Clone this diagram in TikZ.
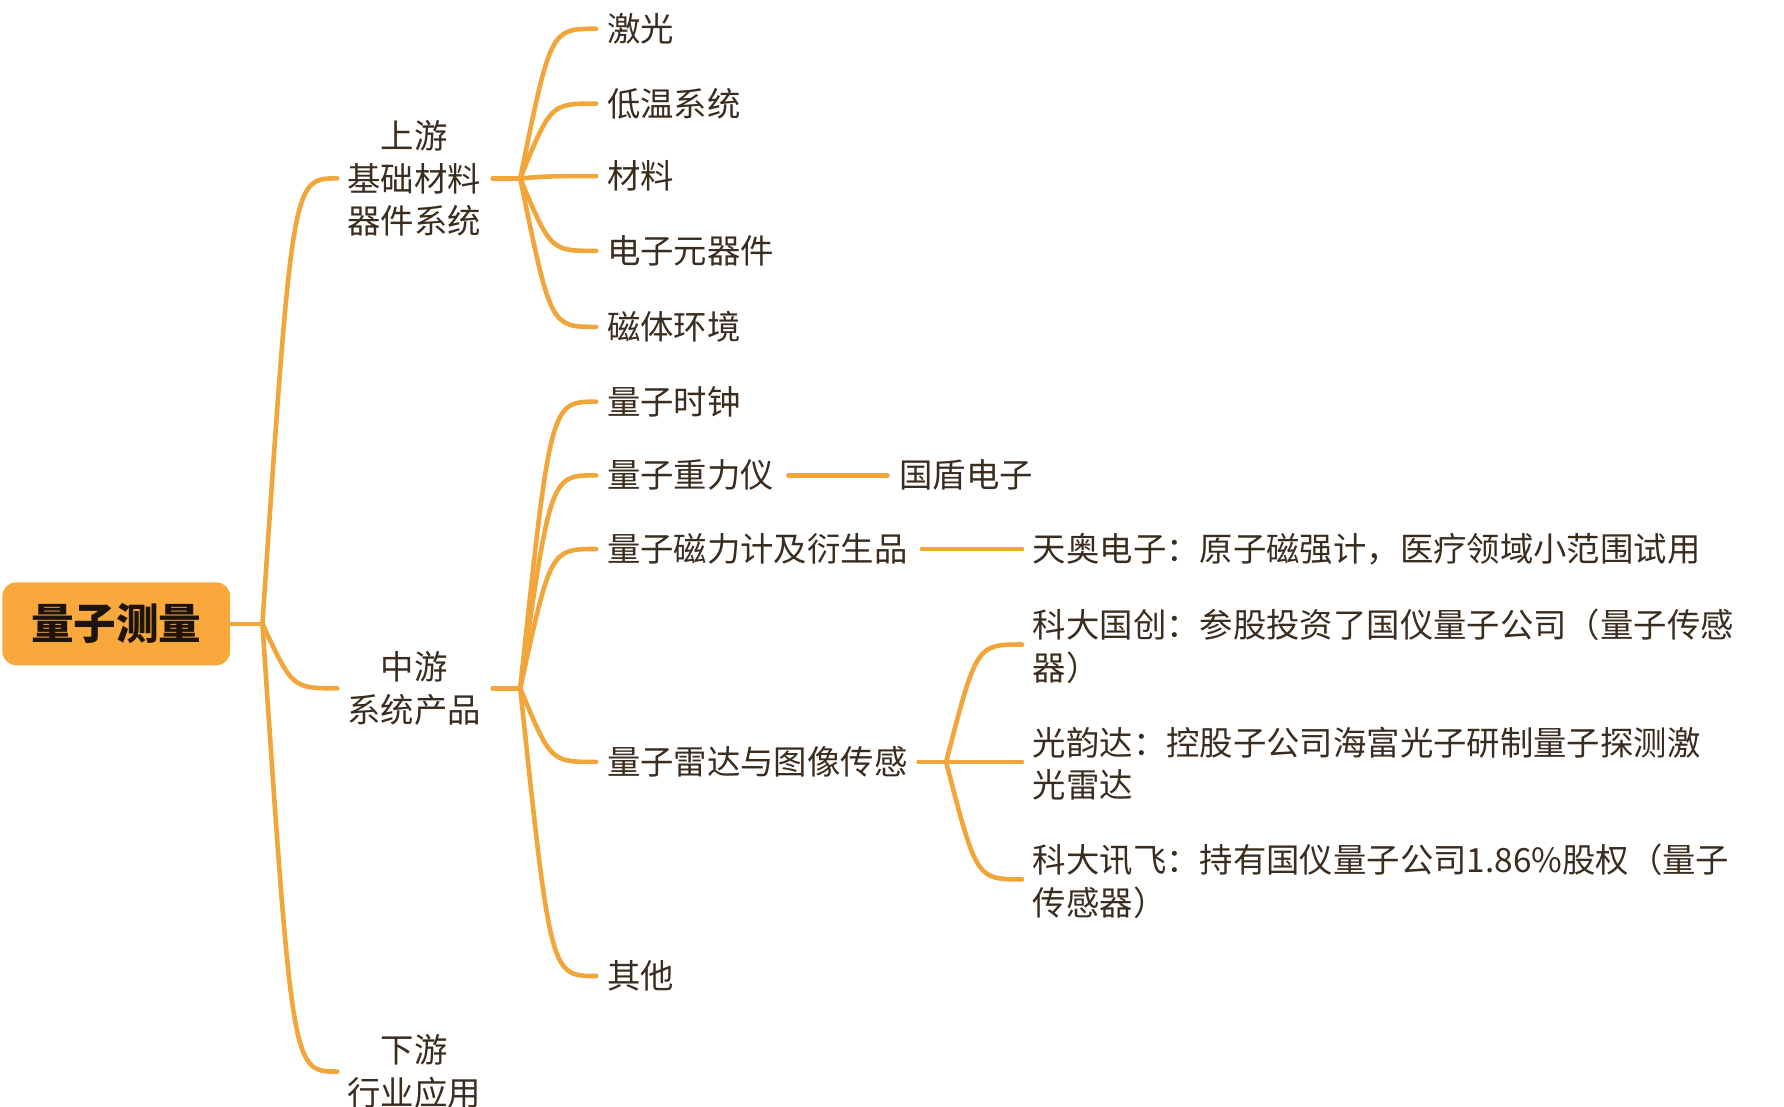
\documentclass[tikz,border=0pt]{standalone}
\usepackage{fontspec}
\setmainfont{Noto Sans CJK SC}
\usetikzlibrary{calc}
\definecolor{ln}{HTML}{F0A63A}
\definecolor{rootc}{HTML}{F9A83E}
\definecolor{tx}{HTML}{3A2C1E}
\tikzset{
  lbl/.style={anchor=west,inner sep=0pt,text=tx,font=\fontsize{14.5pt}{18.5pt}\selectfont},
  mid/.style={inner sep=0pt,text=tx,align=center,font=\fontsize{14.5pt}{18.5pt}\selectfont},
  lnk/.style={draw=ln,line width=2pt,line cap=round},
}
\newcommand{\brc}[2]{\draw[lnk] let \p1=(#1), \p2=(#2) in (#1) .. controls (\x1+0.4*\x2-0.4*\x1,\y2) .. (#2);}
\begin{document}
\begin{tikzpicture}[x=0.5pt,y=-0.5pt]
\useasboundingbox (0,0) rectangle (1550,961);
% root
\node[fill=rootc,rounded corners=6pt,minimum width=99pt,minimum height=36pt,inner sep=0pt,text=black!85!brown,font=\fontsize{18.5pt}{20pt}\selectfont\bfseries] (root) at (101,542) {量子测量};
\coordinate (r0) at (200,542);
\coordinate (r1) at (228,542);
\draw[lnk] (r0) -- (r1);
% level 1
\node[mid] (up) at (360,155) {上游\\基础材料\\器件系统};
\node[mid] (md) at (360,598) {中游\\系统产品};
\node[mid] (dn) at (360,931) {下游\\行业应用};
\coordinate (upL) at (293,155);
\coordinate (mdL) at (293,598);
\coordinate (dnL) at (293,931);
\brc{r1}{upL}\brc{r1}{mdL}\brc{r1}{dnL}
\coordinate (upR0) at (428,155);\coordinate (upR) at (452,155);
\coordinate (mdR0) at (428,598);\coordinate (mdR) at (452,598);
\draw[lnk] (upR0)--(upR);\draw[lnk] (mdR0)--(mdR);
% upstream children
\foreach \nm/\yy/\t in {u1/25/激光,u2/90/低温系统,u3/153/材料,u4/218/电子元器件,u5/284/磁体环境}{
  \node[lbl] (\nm) at (527,\yy) {\t};
  \coordinate (\nm c) at (518,\yy);
  \brc{upR}{\nm c}
}
% midstream children
\foreach \nm/\yy/\t in {m1/349/量子时钟,m2/413/量子重力仪,m3/477/量子磁力计及衍生品,m4/662/量子雷达与图像传感,m5/848/其他}{
  \node[lbl] (\nm) at (527,\yy) {\t};
  \coordinate (\nm c) at (518,\yy);
  \brc{mdR}{\nm c}
}
% gravity
\node[lbl] (g1) at (781,413) {国盾电子};
\coordinate (g0a) at (685,413);\coordinate (g0b) at (771,413);
\draw[lnk] (g0a)--(g0b);
% magnetometer
\node[lbl] (t1) at (897,477) {天奥电子：原子磁强计，医疗领域小范围试用};
\coordinate (t0a) at (801,477);\coordinate (t0b) at (888,477);
\draw[lnk] (t0a)--(t0b);
% radar
\coordinate (ra) at (798,662);\coordinate (rb) at (822,662);
\draw[lnk] (ra)--(rb);
\node[lbl,align=left,anchor=north west] (k1) at (897,529) {科大国创：参股投资了国仪量子公司（量子传感\\器）};
\node[lbl,align=left,anchor=north west] (k2) at (897,631) {光韵达：控股子公司海富光子研制量子探测激\\光雷达};
\node[lbl,align=left,anchor=north west] (k3) at (897,733) {科大讯飞：持有国仪量子公司1.86\%股权（量子\\传感器）};
\coordinate (k1c) at (888,560);\coordinate (k2c) at (888,662);\coordinate (k3c) at (888,764);
\brc{rb}{k1c}\brc{rb}{k2c}\brc{rb}{k3c}
\end{tikzpicture}
\end{document}
